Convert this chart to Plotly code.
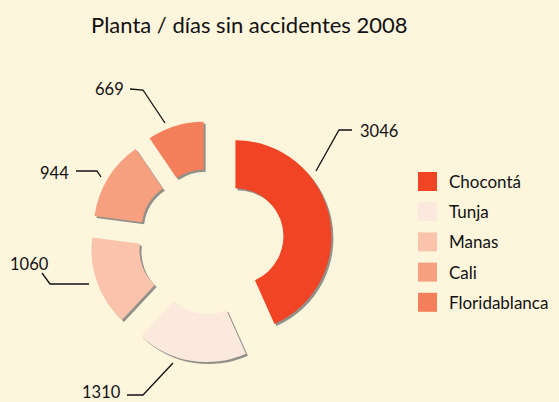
import plotly.graph_objects as go

# ---- data ----
categories = ["Chocontá", "Tunja", "Manas", "Cali", "Floridablanca"]
values = [3046, 1310, 1060, 944, 669]
colors = ["#F04424", "#FCE9DE", "#FAC4AC", "#F7A07F", "#F47F5A"]
title_text = "Planta / días sin accidentes 2008"

# ---- layout constants (pixels) ----
W, H = 559, 402
BG = "#FEF5DD"
FONT = "Lato"
CX, CY = 211, 241.5      # pie centre
R = 96                   # outer radius
PULL = 0.26
HOLE = 0.5
SH_DX, SH_DY = 2, 2      # shadow offset

def px(x):
    return x / W

def py(y):
    return 1 - y / H

ext = R * (1 + PULL)

def domain(dx=0, dy=0):
    return dict(x=[px(CX + dx - ext), px(CX + dx + ext)],
                y=[py(CY + dy + ext), py(CY + dy - ext)])

fig = go.Figure()
# shadow pie
fig.add_trace(go.Pie(
    labels=categories, values=values, sort=False, direction="clockwise",
    rotation=0, hole=HOLE, pull=[PULL] * len(values),
    marker=dict(colors=["rgba(110,110,110,0.75)"] * len(values)),
    textinfo="none", hoverinfo="skip", showlegend=False,
    domain=domain(SH_DX, SH_DY),
))
# main pie
fig.add_trace(go.Pie(
    labels=categories, values=values, sort=False, direction="clockwise",
    rotation=0, hole=HOLE, pull=[PULL] * len(values),
    marker=dict(colors=colors),
    textinfo="none", showlegend=False,
    domain=domain(),
))

# ---- value labels with leader lines (label layout, pixels) ----
label_layout = [
    # text x, text y, anchor, leader polyline
    (358, 131, "left",  [(316, 171), (339, 130), (352, 130)]),
    (123, 392, "right", [(127, 395), (143, 395), (173, 363)]),
    (51, 264, "right",  [(42, 273), (50, 284), (89, 284)]),
    (71, 173, "right",  [(76, 171), (97, 171), (101, 177)]),
    (126, 89, "right",  [(130, 89), (143, 90), (165, 123)]),
]
shapes = []
annotations = []
for v, (tx, ty, anc, pts) in zip(values, label_layout):
    path = "M " + " L ".join(f"{px(x)},{py(y)}" for x, y in pts)
    shapes.append(dict(type="path", xref="paper", yref="paper", path=path,
                       line=dict(color="#111111", width=1.3)))
    annotations.append(dict(text=str(v), x=px(tx), y=py(ty), xref="paper", yref="paper",
                            xanchor=anc, yanchor="middle", showarrow=False,
                            font=dict(family=FONT, size=16.5, color="#111111")))

# ---- custom legend ----
LEG_X, LEG_Y0, LEG_DY, SQ = 418, 172, 30.2, 19
for i, (cat, col) in enumerate(zip(categories, colors)):
    y0 = LEG_Y0 + i * LEG_DY
    shapes.append(dict(type="rect", xref="paper", yref="paper",
                       x0=px(LEG_X), x1=px(LEG_X + SQ), y0=py(y0 + SQ), y1=py(y0),
                       fillcolor=col, line=dict(width=0)))
    annotations.append(dict(text=cat, x=px(447), y=py(y0 + SQ / 2), xref="paper", yref="paper",
                            xanchor="left", yanchor="middle", showarrow=False,
                            font=dict(family=FONT, size=17, color="#111111")))

# ---- title ----
annotations.append(dict(text=title_text, x=px(249.5), y=py(25), xref="paper", yref="paper",
                        xanchor="center", yanchor="middle", showarrow=False,
                        font=dict(family=FONT, size=22, color="#111111")))

fig.update_layout(
    width=W, height=H, margin=dict(l=0, r=0, t=0, b=0),
    paper_bgcolor=BG, plot_bgcolor=BG,
    shapes=shapes, annotations=annotations, showlegend=False,
)
fig.write_html("out.html")
